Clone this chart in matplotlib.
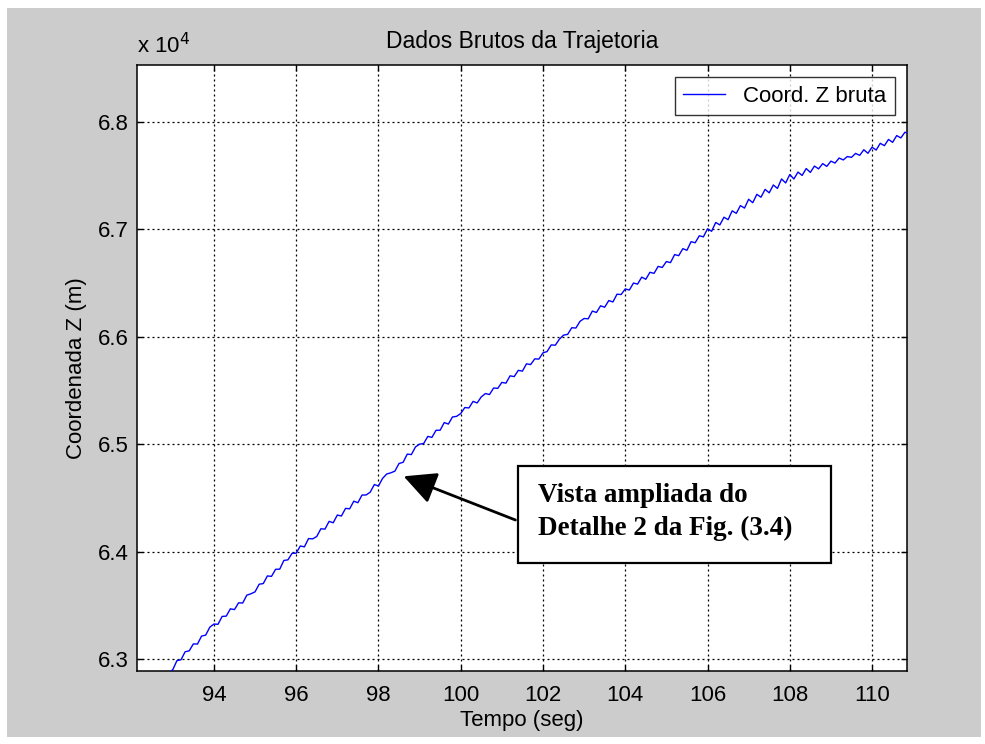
"""
Dados Brutos da Trajetoria: raw Z coordinate vs time, MATLAB-style figure.
"""
import matplotlib
matplotlib.use('Agg')
import matplotlib.pyplot as plt
from matplotlib.patches import Rectangle, FancyArrowPatch
import numpy as np

plt.rcParams['font.family'] = ['Liberation Sans', 'DejaVu Sans']

# sampling of the raw series (s)
t_start = 92.9
t_step = 0.1

# raw Z coordinate (m), one row per second
z_raw = [
    62870,
    62900, 62984, 62993, 63067, 63076, 63140, 63139, 63213, 63222, 63296,   # 93
    63325, 63323, 63396, 63399, 63467, 63460, 63523, 63521, 63594, 63607,   # 94
    63625, 63696, 63702, 63773, 63769, 63835, 63836, 63917, 63923, 63984,   # 95
    63985, 64052, 64044, 64121, 64118, 64140, 64212, 64209, 64281, 64268,   # 96
    64340, 64331, 64402, 64398, 64469, 64455, 64526, 64527, 64553, 64624,   # 97
    64610, 64681, 64722, 64733, 64749, 64820, 64831, 64907, 64903, 64974,   # 98
    65000, 65006, 65072, 65063, 65129, 65130, 65201, 65187, 65253, 65259,   # 99
    65285, 65341, 65337, 65398, 65384, 65440, 65471, 65462, 65523, 65519,   # 100
    65575, 65568, 65636, 65629, 65687, 65680, 65748, 65741, 65794, 65792,   # 101
    65850, 65862, 65924, 65921, 65978, 66015, 66022, 66084, 66081, 66143,   # 102
    66170, 66167, 66239, 66226, 66288, 66275, 66337, 66324, 66396, 66393,   # 103
    66445, 66435, 66500, 66490, 66555, 66535, 66600, 66590, 66655, 66645,   # 104
    66700, 66690, 66765, 66755, 66820, 66805, 66885, 66875, 66940, 66930,   # 105
    67005, 66982, 67064, 67041, 67113, 67090, 67172, 67149, 67221, 67198,   # 106
    67280, 67248, 67326, 67299, 67372, 67340, 67413, 67381, 67469, 67432,   # 107
    67510, 67469, 67533, 67502, 67566, 67530, 67589, 67563, 67612, 67586,   # 108
    67635, 67617, 67664, 67646, 67678, 67670, 67707, 67689, 67741, 67708,   # 109
    67765, 67738, 67801, 67779, 67837, 67810, 67873, 67851, 67904, 67892,   # 110
]

x_ticks = [94, 96, 98, 100, 102, 104, 106, 108, 110]
y_ticks = [6.3, 6.4, 6.5, 6.6, 6.7, 6.8]
x_range = (92.13, 110.85)
y_range = (6.2888, 6.853)

title = 'Dados Brutos da Trajetoria'
x_label = 'Tempo (seg)'
y_label = 'Coordenada Z (m)'
legend_label = 'Coord. Z bruta'
note = 'Vista ampliada do\nDetalhe 2 da Fig. (3.4)'
note_target = (98.55, 6.471)

W, H = 985, 744
fig = plt.figure(figsize=(W / 100, H / 100), dpi=100, facecolor='white')

def fp(x, y):
    # figure pixels (from top-left) -> figure fraction
    return x / W, 1 - y / H

# grey MATLAB figure background (under the axes)
fig.patches.append(Rectangle(fp(7, 737), 974 / W, 729 / H, transform=fig.transFigure,
                             facecolor='#cccccc', edgecolor='none', zorder=-10))

ax = fig.add_axes([137 / W, 1 - 671 / H, 770 / W, 606 / H])
ax.set_facecolor('white')

t = t_start + t_step * np.arange(len(z_raw))
z = np.array(z_raw) / 1e4
ax.plot(t, z, color='#0000ff', lw=1.0, label=legend_label, zorder=3)

ax.set_xlim(*x_range)
ax.set_ylim(*y_range)
ax.set_xticks(x_ticks)
ax.set_yticks(y_ticks)
ax.set_xticklabels([str(v) for v in x_ticks])
ax.set_yticklabels(['%.1f' % v for v in y_ticks])
ax.tick_params(direction='in', length=4, width=1, top=True, right=True,
               labelsize=16, colors='black')
ax.tick_params(axis='x', pad=10)
ax.tick_params(axis='y', pad=6)
ax.grid(True, color='black', linestyle=(0, (1.6, 2.4)), lw=0.9)
for s in ax.spines.values():
    s.set_linewidth(1.1)
    s.set_color('black')

ax.set_title(title, fontsize=16.5, pad=12)
ax.set_xlabel(x_label, fontsize=16, labelpad=3)
ax.set_ylabel(y_label, fontsize=16, labelpad=8)
ax.text(0.0, 1.012, r'x 10$^{4}$', transform=ax.transAxes, fontsize=16,
        ha='left', va='bottom')

leg = ax.legend(loc='upper right', fontsize=16, frameon=True, fancybox=False,
                handlelength=1.9, handletextpad=0.8, borderaxespad=0.55,
                borderpad=0.38)
leg.get_frame().set_edgecolor('black')
leg.get_frame().set_linewidth(1.0)

# annotation box with arrow, drawn over the axes
bx0, by0, bx1, by1 = 518, 466, 831, 563
fig.patches.append(Rectangle(fp(bx0, by1), (bx1 - bx0) / W, (by1 - by0) / H,
                             transform=fig.transFigure, facecolor='white',
                             edgecolor='black', lw=1.6, zorder=5))
fig.text(*fp(538, 512), note, fontsize=19.5, fontweight='bold',
         family='Liberation Serif', ha='left', va='center', linespacing=1.45,
         zorder=6)
tip = fig.transFigure.inverted().transform(ax.transData.transform(note_target))
arr = FancyArrowPatch(fp(bx0, 521), tuple(tip), transform=fig.transFigure,
                      arrowstyle='-|>,head_length=0.9,head_width=0.45',
                      mutation_scale=22, color='black', lw=2.0, zorder=6)
fig.patches.append(arr)

fig.savefig('out.png', dpi=100, facecolor='white')
